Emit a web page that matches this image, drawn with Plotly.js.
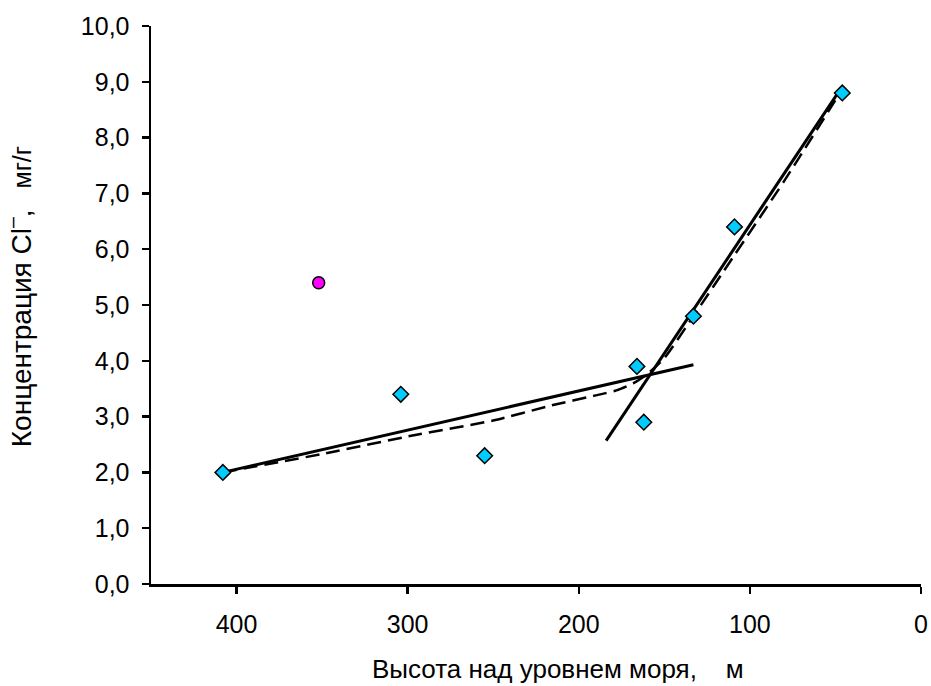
<!DOCTYPE html>
<html><head><meta charset="utf-8">
<script src="https://cdn.plot.ly/plotly-3.0.1.min.js"></script>
<style>body{margin:0;background:#fff}#chart{width:931px;height:686px}</style>
</head><body><div id="chart"></div>
<script>
// Measured points (diamonds)
const heightM = [408, 304, 255, 166, 162, 133, 109, 46];
const conc    = [2.0, 3.4, 2.3, 3.9, 2.9, 4.8, 6.4, 8.8];
// Outlier (circle)
const outlierX = [352];
const outlierY = [5.4];
// Solid trend lines
const lowTrendX = [408, 133];
const lowTrendY = [2.0, 3.93];
const steepTrendX = [184, 49];
const steepTrendY = [2.57, 8.78];
// Dashed curve
const dashX = [408, 350, 294, 250, 216, 190, 178, 168, 160, 150, 133, 110, 80, 49];
const dashY = [2.0, 2.33, 2.68, 2.93, 3.2, 3.38, 3.47, 3.6, 3.76, 4.05, 4.8, 5.85, 7.22, 8.72];
const yTicks = [0,1,2,3,4,5,6,7,8,9,10];
const xTicks = [400,300,200,100,0];
const xTitle = 'Высота над уровнем моря,\u00A0\u00A0\u00A0\u00A0м';
const yTitle = 'Концентрация Cl<sup>–</sup>,<span style="font-size:25px">\u00A0\u00A0\u00A0мг/г</span>';

const fam = 'Liberation Sans, Arial, sans-serif';
const tickFont = {family: fam, size: 25, color: '#000'};
const traces = [
  {x: dashX, y: dashY, mode: 'lines', line: {color: '#000', width: 2.5, dash: '14px,7px', shape: 'spline', smoothing: 0.6}},
  {x: lowTrendX, y: lowTrendY, mode: 'lines', line: {color: '#000', width: 3}},
  {x: steepTrendX, y: steepTrendY, mode: 'lines', line: {color: '#000', width: 3}},
  {x: heightM, y: conc, mode: 'markers', marker: {symbol: 'diamond', size: 12, color: '#00CCFF', line: {color: '#000', width: 1.5}}},
  {x: outlierX, y: outlierY, mode: 'markers', marker: {symbol: 'circle', size: 12, color: '#FF00FF', line: {color: '#000', width: 1.5}}}
];
const layout = {
  width: 931, height: 686,
  margin: {l: 151, r: 10, t: 26, b: 102},
  showlegend: false,
  paper_bgcolor: '#fff', plot_bgcolor: '#fff',
  separators: ',.',
  font: {family: fam, color: '#000'},
  xaxis: {range: [450, 0], tickvals: xTicks, ticks: 'outside', ticklen: 7, tickwidth: 2.5, tickcolor: '#000',
          showline: true, linecolor: '#000', linewidth: 2.5, showgrid: false, zeroline: false,
          tickfont: tickFont, ticklabelstandoff: 9},
  yaxis: {range: [0, 10], tickvals: yTicks, tickformat: '.1f', ticks: 'outside', ticklen: 7, tickwidth: 2.5, tickcolor: '#000',
          showline: true, linecolor: '#000', linewidth: 2.5, showgrid: false, zeroline: false,
          tickfont: tickFont, ticklabelstandoff: 7},
  annotations: [
    {text: xTitle, xref: 'paper', yref: 'paper', x: 0.529, y: -0.152, xanchor: 'center', yanchor: 'middle', showarrow: false, font: {family: fam, size: 26, color: '#000'}},
    {text: yTitle, xref: 'paper', yref: 'paper', x: -0.172, y: 0.515, xanchor: 'center', yanchor: 'middle', textangle: -90, showarrow: false, font: {family: fam, size: 28, color: '#000'}}
  ]
};
Plotly.newPlot('chart', traces, layout, {staticPlot: true});
</script></body></html>
